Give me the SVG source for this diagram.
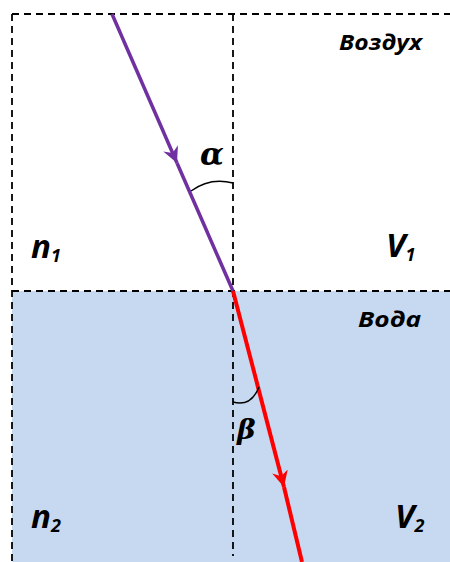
<svg xmlns="http://www.w3.org/2000/svg" width="450" height="562" viewBox="0 0 450 562">
<style>
.dash{stroke:#000;stroke-width:1.8;stroke-dasharray:7 5;fill:none}
.lbl{font-family:"Open Sans","Liberation Sans",sans-serif;font-weight:bold;font-style:italic;fill:#000}
.gr{font-family:"DejaVu Serif","Liberation Serif",serif;font-weight:bold;font-style:italic;fill:#000}
.arc{stroke:#000;stroke-width:1.4;fill:none}
</style>
<defs>
<marker id="ahP" markerUnits="userSpaceOnUse" markerWidth="20" markerHeight="20" refX="16" refY="8" orient="auto">
<path d="M16,8 L0,0 L5,8 L0,16 Z" fill="#7030A0"/>
</marker>
<marker id="ahR" markerUnits="userSpaceOnUse" markerWidth="20" markerHeight="20" refX="16" refY="8" orient="auto">
<path d="M16,8 L0,0 L5,8 L0,16 Z" fill="#FF0000"/>
</marker>
</defs>
<rect id="water" x="12" y="291" width="438" height="271" fill="#C6D9F0"/>
<g id="boundaries">
<line class="dash" x1="12" y1="14" x2="450" y2="14"/>
<line class="dash" x1="12" y1="14" x2="12" y2="562"/>
<line class="dash" x1="233" y1="14" x2="233" y2="556"/>
<line class="dash" x1="12" y1="291" x2="450" y2="291"/>
</g>
<g id="connectors">
<line x1="112" y1="14" x2="177" y2="163" stroke="#7030A0" stroke-width="3.5" marker-end="url(#ahP)"/>
<line x1="177" y1="163" x2="233" y2="291" stroke="#7030A0" stroke-width="3.5"/>
<line x1="233" y1="291" x2="284" y2="487" stroke="#FF0000" stroke-width="4" marker-end="url(#ahR)"/>
<line x1="284" y1="487" x2="302" y2="562" stroke="#FF0000" stroke-width="4"/>
</g>
<g id="alpha">
<path class="arc" d="M191,191 Q210,177 233,183"/>
<text class="gr" x="200" y="165" font-size="31">α</text>
</g>
<g id="beta">
<path class="arc" d="M233,402 Q251,407 259,387"/>
<text class="gr" x="237" y="439" font-size="28">β</text>
</g>
<g id="air-label"><text class="lbl" x="339" y="50" font-size="22" textLength="83" lengthAdjust="spacingAndGlyphs">Воздух</text></g>
<g id="water-label"><text class="lbl" x="358" y="327" font-size="22" textLength="63" lengthAdjust="spacingAndGlyphs">Вода</text></g>
<g id="n1"><text class="lbl" x="31" y="258" font-size="33">n<tspan font-size="18" dy="4">1</tspan></text></g>
<g id="V1"><text class="lbl" x="386" y="257" font-size="33">V<tspan font-size="18" dy="4">1</tspan></text></g>
<g id="n2"><text class="lbl" x="31" y="528" font-size="33">n<tspan font-size="18" dy="4">2</tspan></text></g>
<g id="V2"><text class="lbl" x="395" y="528" font-size="33">V<tspan font-size="18" dy="4">2</tspan></text></g>
</svg>
